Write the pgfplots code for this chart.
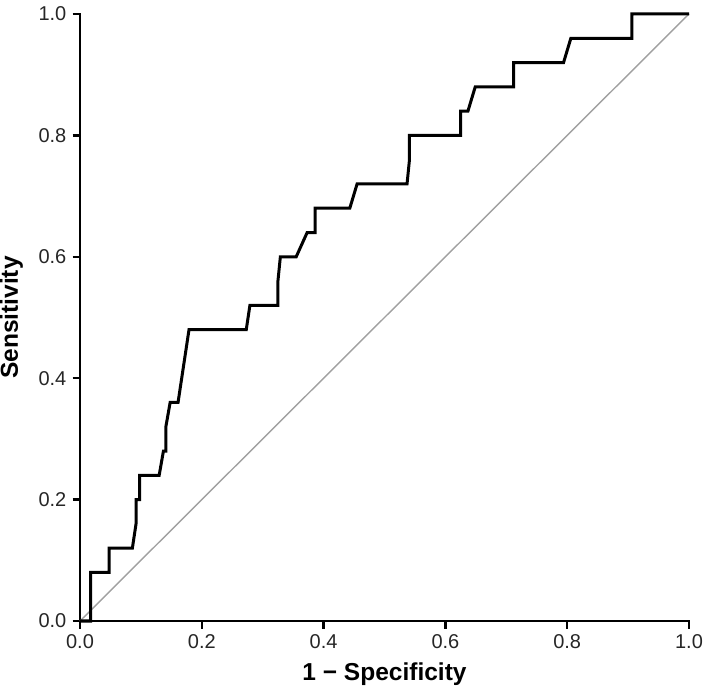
\documentclass[border=0pt]{standalone}
\usepackage{pgfplots}
\pgfplotsset{compat=1.18}
\usepackage{fontspec}
\setmainfont{Liberation Sans}
\definecolor{diag}{HTML}{A0A0A0}
\begin{document}
\begin{tikzpicture}
\begin{axis}[
  at={(80bp,66bp)}, anchor=south west,
  scale only axis, width=609bp, height=607bp,
  xmin=0, xmax=1, ymin=0, ymax=1,
  axis lines=left,
  axis line style={-, line width=2.6bp, line cap=rect},
  xtick={0,0.2,0.4,0.6,0.8,1.0},
  ytick={0,0.2,0.4,0.6,0.8,1.0},
  tick align=outside,
  major tick length=7.5bp,
  tick style={line width=2.4bp, black},
  /pgf/number format/assume math mode=true,
  /pgf/number format/fixed, /pgf/number format/fixed zerofill,
  /pgf/number format/precision=1,
  tick label style={font=\fontsize{20bp}{22bp}\selectfont, color=black!85},
  xticklabel style={inner sep=0pt, anchor=north, yshift=-6bp},
  yticklabel style={inner sep=0pt, anchor=east, xshift=-6bp},
  xlabel={1 − Specificity},
  ylabel={Sensitivity},
  label style={font=\fontsize{24.5bp}{27bp}\selectfont\bfseries},
  xlabel style={at={(axis description cs:0.5,-0.0988)}, anchor=base, inner sep=0pt},
  ylabel style={at={(axis description cs:-0.1018,0.5)}, anchor=base, rotate=0, inner sep=0pt},
  clip=false,
]
\addplot[diag, line width=1.4bp] coordinates {(0,0) (1,1)};
\addplot[black, line width=3bp, line join=miter] coordinates {
(0,0) (0.0175,0) (0.0175,0.08) (0.048,0.08) (0.048,0.12) (0.086,0.12)
(0.092,0.16) (0.092,0.20) (0.098,0.20) (0.098,0.24) (0.130,0.24)
(0.137,0.28) (0.141,0.28) (0.141,0.32) (0.148,0.36) (0.161,0.36)
(0.179,0.48) (0.273,0.48) (0.279,0.52) (0.325,0.52) (0.325,0.56)
(0.329,0.60) (0.355,0.60) (0.373,0.64) (0.386,0.64) (0.386,0.68)
(0.443,0.68) (0.455,0.72) (0.537,0.72) (0.541,0.76) (0.541,0.80)
(0.625,0.80) (0.625,0.84) (0.637,0.84) (0.649,0.88) (0.712,0.88)
(0.712,0.92) (0.794,0.92) (0.806,0.96) (0.906,0.96) (0.906,1.00)
(1.0,1.0)
};
\end{axis}
\pgfresetboundingbox
\path[use as bounding box] (0,0) rectangle (704bp,687bp);
\end{tikzpicture}
\end{document}
